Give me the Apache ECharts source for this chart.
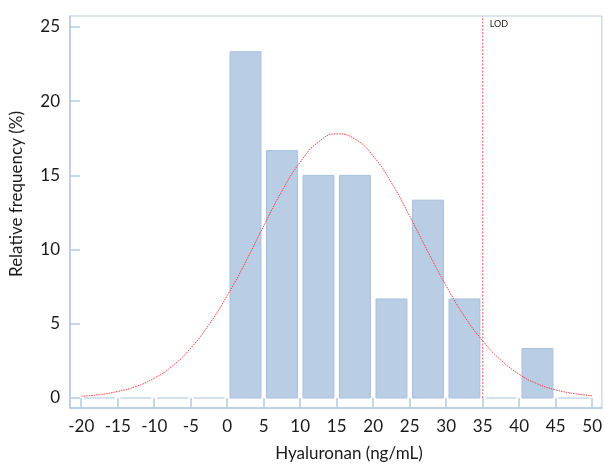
<!DOCTYPE html>
<html>
<head>
<meta charset="utf-8">
<script src="https://cdn.jsdelivr.net/npm/echarts@6/dist/echarts.min.js"></script>
<style>
  html, body { margin: 0; padding: 0; background: #ffffff; }
  #chart { width: 605px; height: 473px; }
</style>
</head>
<body>
<div id="chart"></div>
<script>
// Histogram bins (lower edge) and relative frequency (%)
var binStarts = [-20, -15, -10, -5, 0, 5, 10, 15, 20, 25, 30, 35, 40, 45];
var binWidth = 5;
var freq = [0, 0, 0, 0, 23.33, 16.67, 15, 15, 6.67, 13.33, 6.67, 0, 3.33, 0];

// Fitted normal curve
var curveX = [-20, -17.5, -15, -12.5, -10, -7.5, -5, -2.5, 0, 2.5, 5, 7.5, 10, 12.5, 15, 17.5, 20, 22.5, 25, 27.5, 30, 32.5, 35, 37.5, 40, 42.5, 45, 47.5, 50];
var curveY = [0.12, 0.23, 0.44, 0.78, 1.33, 2.16, 3.35, 4.95, 6.9, 9.15, 11.6, 13.95, 15.9, 17.25, 17.8, 17.45, 16.3, 14.5, 12.25, 9.85, 7.55, 5.5, 3.85, 2.55, 1.6, 0.95, 0.55, 0.3, 0.15];

var xTicks = [-20, -15, -10, -5, 0, 5, 10, 15, 20, 25, 30, 35, 40, 45, 50];
var yTicks = [0, 5, 10, 15, 20, 25];
var lodValue = 35;
var lodLabel = 'LOD';

var axisBlue = '#b7c9e2';
var font = 'Lato, "Liberation Sans", sans-serif';

var chart = echarts.init(document.getElementById('chart'), null, { renderer: 'canvas' });

var barData = binStarts.map(function (s, i) { return [s, s + binWidth, freq[i]]; });
var curveData = curveX.map(function (x, i) { return [x, curveY[i]]; });
var yMax = 25.74;

chart.setOption({
  animation: false,
  backgroundColor: '#ffffff',
  grid: {
    left: 66, right: 3, top: 16, bottom: 65,
    show: true, borderColor: axisBlue, borderWidth: 1, backgroundColor: 'transparent'
  },
  xAxis: {
    type: 'value',
    min: -21.54, max: 51.33,
    name: 'Hyaluronan (ng/mL)',
    nameLocation: 'middle',
    nameGap: 37,
    nameTextStyle: { fontFamily: font, fontSize: 17, color: '#1a1a1a', padding: [0, 0, 0, 26] },
    axisLine: { show: true, onZero: false, lineStyle: { color: axisBlue, width: 1.5 } },
    axisTick: { show: true, inside: true, length: 10, lineStyle: { color: axisBlue, width: 1.5 }, customValues: xTicks },
    axisLabel: { fontFamily: font, fontSize: 17, color: '#1a1a1a', margin: 10, customValues: xTicks },
    splitLine: { show: false }
  },
  yAxis: {
    type: 'value',
    min: -0.674, max: yMax,
    name: 'Relative frequency (%)',
    nameLocation: 'middle',
    nameGap: 45,
    nameRotate: 90,
    nameTextStyle: { fontFamily: font, fontSize: 17, color: '#1a1a1a', padding: [0, 0, 0, 36] },
    axisLine: { show: true, onZero: false, lineStyle: { color: axisBlue, width: 1.5 } },
    axisTick: { show: true, inside: true, length: 10, lineStyle: { color: axisBlue, width: 1.5 }, customValues: yTicks },
    axisLabel: { fontFamily: font, fontSize: 17, color: '#1a1a1a', margin: 10, customValues: yTicks },
    splitLine: { show: false }
  },
  series: [
    {
      type: 'custom',
      name: 'bars',
      data: barData,
      encode: { x: [0, 1], y: 2 },
      renderItem: function (params, api) {
        var p0 = api.coord([api.value(0), api.value(2)]);
        var p1 = api.coord([api.value(1), 0]);
        var inset = 2.8;
        var x0 = p0[0] + inset, x1 = p1[0] - inset;
        if (api.value(2) <= 0) {
          return {
            type: 'line',
            shape: { x1: x0, y1: p1[1], x2: x1, y2: p1[1] },
            style: { stroke: '#c6d6ea', lineWidth: 1.5 }
          };
        }
        return {
          type: 'rect',
          shape: { x: x0, y: p0[1], width: x1 - x0, height: p1[1] - p0[1] },
          style: { fill: '#b9cde5', stroke: '#a7bfde', lineWidth: 1 }
        };
      },
      z: 2
    },
    {
      type: 'line',
      name: 'normal',
      data: curveData,
      smooth: true,
      showSymbol: false,
      symbol: 'none',
      lineStyle: { color: '#ff4040', width: 1, type: [1.5, 1] },
      z: 3
    },
    {
      type: 'custom',
      name: 'lod',
      data: [[lodValue]],
      renderItem: function (params, api) {
        var bottom = api.coord([api.value(0), 0]);
        var top = api.coord([api.value(0), yMax]);
        return {
          type: 'group',
          children: [
            {
              type: 'line',
              shape: { x1: bottom[0], y1: bottom[1], x2: top[0], y2: top[1] },
              style: { stroke: '#f07070', lineWidth: 1.2, lineDash: [2, 1.5] }
            },
            {
              type: 'text',
              x: top[0] + 7, y: top[1] + 4,
              style: { text: lodLabel, fill: '#1a1a1a', font: '9px ' + font, textAlign: 'left', textVerticalAlign: 'top' }
            }
          ]
        };
      },
      z: 4
    }
  ]
});
</script>
</body>
</html>
